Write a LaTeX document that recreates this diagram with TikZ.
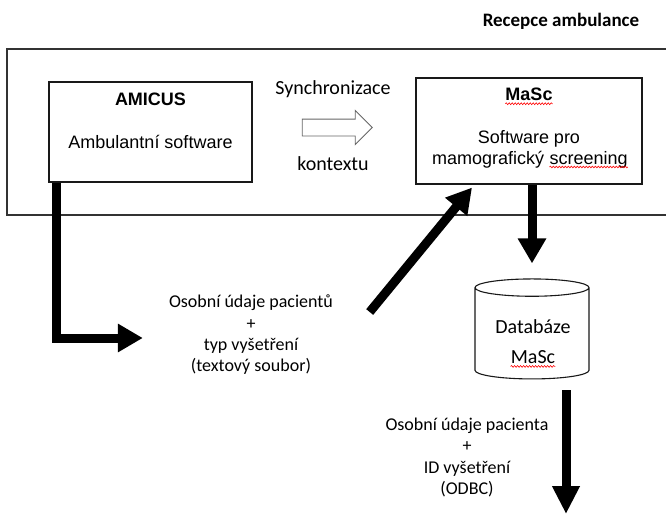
\documentclass[tikz,border=0pt]{standalone}
\usepackage{fontspec}
\setmainfont{Liberation Sans}
\newfontfamily\notefont{Carlito}
\usepackage{tikz}
\usetikzlibrary{arrows.meta, positioning, shapes.geometric, shapes.arrows, decorations.pathmorphing}
\tikzset{
  swbox/.style={draw=black!90, line width=1.1pt, inner sep=0pt},
  boxtext/.style={inner sep=0pt, align=center, font=\fontsize{18}{21}\selectfont},
  note/.style={inner sep=0pt, align=center, font=\notefont\fontsize{18}{21.3}\selectfont},
  synclabel/.style={inner sep=0pt, font=\notefont\fontsize{20}{24}\selectfont},
  flow/.style={line width=9pt, -{Triangle[length=25pt, width=27pt]}},
  spell/.style={red, line width=0.6pt, decorate, decoration={snake, amplitude=0.9pt, segment length=3pt}}
}

\begin{document}
\begin{tikzpicture}[x=1pt, y=-1pt]
\useasboundingbox (0,0) rectangle (666,514);
\node[draw=black!80, line width=1.2pt, minimum width=666pt, minimum height=166pt] (reception) at (340,132) {};
\node[inner sep=0pt, font=\notefont\bfseries\fontsize{19}{22}\selectfont] (receptionlabel) at (561,21) {Recepce ambulance};
% software boxes
\node[swbox, minimum width=203pt, minimum height=100pt] (amicus) at (150.5,132) {};
\node[boxtext, below=11.5pt of amicus.north] (amicustitle) {\textbf{AMICUS}};
\node[boxtext, below=53.5pt of amicus.north] (amicustext) {Ambulantní software};
\node[swbox, minimum width=226pt, minimum height=106pt] (masc) at (529,131) {};
\node[boxtext, below=10.5pt of masc.north] (masctitle) {\textbf{MaSc}};
\node[boxtext, below=52.5pt of masc.north] (mascsoft) {Software pro};
\node[boxtext, anchor=base west] (mascmamo) at (432,164) {mamografický};
\node[boxtext, base right=5pt of mascmamo] (mascscreen) {screening};
% context synchronisation
\node[single arrow, draw=black!60, line width=0.9pt, minimum height=70pt, minimum width=33pt,
      single arrow head extend=8.5pt, inner sep=8pt] (sync) at (333,127.5) {};
\node[synclabel] (synctop) at (333,89) {Synchronizace};
\node[synclabel] (syncbottom) at (333,164) {kontextu};
% data
\node[note] (patients) at (251,335) {Osobní údaje pacientů\\+\\typ vyšetření\\(textový soubor)};
\node[cylinder, shape border rotate=90, draw=black!90, line width=1.1pt, aspect=2.6,
      minimum width=114pt, minimum height=100pt] (db) at (532,335) {};
\node[synclabel] (dbname) at (533,327) {Databáze};
\node[synclabel] (dbmasc) at (533,357) {MaSc};
\node[note] (odbc) at (467,457.5) {Osobní údaje pacienta\\+\\ID vyšetření\\(ODBC)};
\coordinate (dbout) at (566,514);
% spell checker marks
\draw[spell] ([yshift=-3pt]masctitle.base west) -- ([yshift=-3pt]masctitle.base east);
\draw[spell] ([yshift=-3pt]mascscreen.base west) -- ([yshift=-3pt]mascscreen.base east);
\draw[spell] ([yshift=-3pt]dbmasc.base west) -- ([yshift=-3pt]dbmasc.base east);
% flows
\draw[flow] ([xshift=8.5pt]amicus.south west) |- ([shift={(-26,3)}]patients.west);
\draw[flow] ([shift={(36.5,-23)}]patients.east) -- ([shift={(-57,3)}]masc.south);
\draw[flow, shorten >=15pt] (db.north |- masc.south) -- (db.north);
\draw[flow, -{Triangle[length=28pt, width=26pt]}, shorten <=11pt] (dbout |- db.south) -- (dbout);
\end{tikzpicture}
\end{document}
